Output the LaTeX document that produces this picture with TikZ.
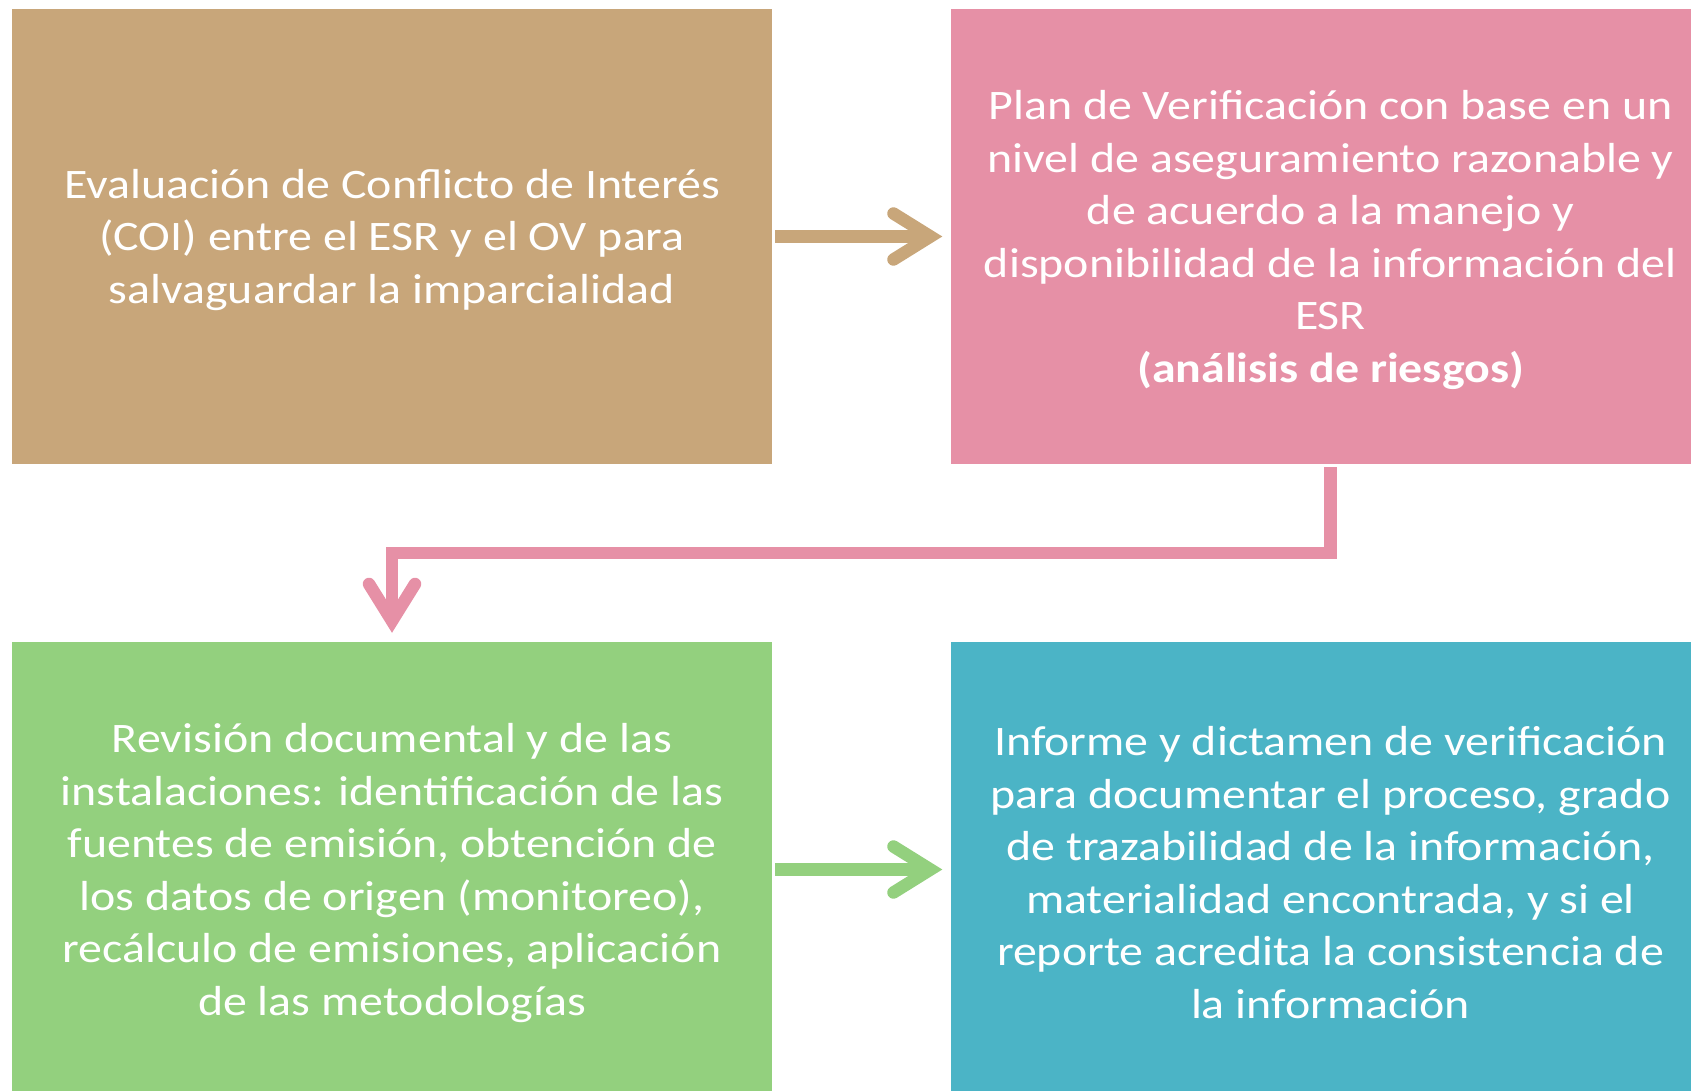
\documentclass[tikz,border=0pt]{standalone}
\usepackage{fontspec}
\setmainfont{Carlito}[FakeStretch=1.14]
\usetikzlibrary{arrows.meta,calc}
\definecolor{tanc}{HTML}{C8A67A}
\definecolor{pinkc}{HTML}{E690A6}
\definecolor{greenc}{HTML}{93D07E}
\definecolor{tealc}{HTML}{4BB4C6}
\begin{document}
\begin{tikzpicture}[x=1pt,y=-1pt,
  box/.style={rectangle, minimum width=760pt, minimum height=455pt, inner sep=0pt},
  txt/.style={inner sep=0pt, text=white, align=center, font=\fontsize{42}{52.5}\selectfont},
  conn/.style={line width=12.5pt,
    -{Straight Barb[length=37pt,width=46pt,line cap=round,line join=miter]}}]
\useasboundingbox (0,0) rectangle (1691,1091);
\clip (0,0) rectangle (1691,1091);
\node[box, fill=tanc] (tl) at (392,236.5) {};
\node[box, fill=pinkc] (tr) at (1330.5,236.5) {};
\node[box, fill=greenc] (bl) at (392,869.5) {};
\node[box, fill=tealc] (br) at (1330.5,869.5) {};
\node[txt] (tlt) at ([yshift=-3.3pt]tl.center) {Evaluación de Conflicto de Interés\\(COI) entre el ESR y el OV para\\salvaguardar la imparcialidad};
\node[txt] (trt) at ([yshift=-3.3pt]tr.center) {Plan de Verificación con base en un\\nivel de aseguramiento razonable y\\de acuerdo a la manejo y\\disponibilidad de la información del\\ESR\\\textbf{(análisis de riesgos)}};
\node[txt] (blt) at ([yshift=-3.3pt]bl.center) {Revisión documental y de las\\instalaciones: identificación de las\\fuentes de emisión, obtención de\\los datos de origen (monitoreo),\\recálculo de emisiones, aplicación\\de las metodologías};
\node[txt] (brt) at ([yshift=-3.3pt]br.center) {Informe y dictamen de verificación\\para documentar el proceso, grado\\de trazabilidad de la información,\\materialidad encontrada, y si el\\reporte acredita la consistencia de\\la información};
\coordinate (mid) at ($(tr.south)!0.5!(br.north)$);
\draw[conn, tanc, shorten <=3pt, shorten >=8pt] (tl.east) -- (tr.west);
\draw[conn, greenc, shorten <=3pt, shorten >=8pt] (bl.east) -- (br.west);
\draw[conn, pinkc, shorten <=3pt, shorten >=9pt] (tr.south) -- (mid) -| (bl.north);
\end{tikzpicture}
\end{document}
